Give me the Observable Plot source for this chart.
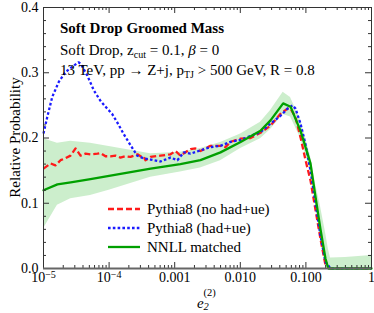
<!DOCTYPE html>
<html><head><meta charset="utf-8">
<script src="https://cdn.jsdelivr.net/npm/d3@7"></script>
<script src="https://cdn.jsdelivr.net/npm/@observablehq/plot@0.6"></script>
<style>
body{margin:0;background:#fff;}
#chart{width:374px;height:313px;}
#chart svg, #chart svg text, #chart svg tspan { font-family: "Liberation Serif", "Times New Roman", "DejaVu Serif", serif !important; }
</style></head><body><div id="chart"></div>
<script>
// ---- data ----
const redX = [1e-5,1.28e-5,1.52e-5,1.82e-5,2.16e-5,2.58e-5,3.08e-5,3.67e-5,4.37e-5,5.2e-5,6.65e-5,7.39e-5,8.81e-5,1.05e-4,1.25e-4,1.49e-4,1.78e-4,2.12e-4,2.71e-4,3.01e-4,3.34e-4,3.58e-4,4.28e-4,6.08e-4,8.63e-4,1.03e-3,1.22e-3,1.74e-3,2.07e-3,2.47e-3,3.51e-3,4.99e-3,5.94e-3,7.09e-3,1.01e-2,1.43e-2,2.03e-2,2.89e-2,4.10e-2,5.25e-2,5.83e-2,6.94e-2,8.28e-2,9.87e-2,0.1175,0.14,0.167,0.199,0.237,1];
const redY = [.153,.161,.158,.166,.169,.173,.184,.173,.176,.175,.176,.177,.172,.172,.173,.170,.172,.171,.175,.172,.172,.166,.171,.173,.175,.180,.173,.183,.184,.180,.188,.188,.186,.194,.199,.200,.208,.219,.237,.245,.245,.232,.201,.166,.135,.09,.045,.005,0,0];

const blueX = [1e-5,1.14e-5,1.36e-5,1.71e-5,2.16e-5,2.9e-5,3.42e-5,3.67e-5,4.64e-5,5.85e-5,7.39e-5,9.35e-5,1.11e-4,1.33e-4,1.67e-4,2.12e-4,2.68e-4,3.34e-4,4.28e-4,6.08e-4,8.63e-4,1.1e-3,1.38e-3,1.74e-3,2.47e-3,3.51e-3,4.99e-3,7.09e-3,1.01e-2,1.43e-2,2.03e-2,2.89e-2,4.10e-2,5.25e-2,6.25e-2,6.94e-2,8.28e-2,9.87e-2,0.1175,0.14,0.167,0.199,0.237,1];
const blueY = [.207,.232,.263,.286,.301,.311,.316,.314,.296,.273,.257,.245,.237,.224,.206,.189,.173,.169,.167,.164,.170,.166,.178,.176,.181,.186,.188,.194,.197,.203,.209,.222,.234,.245,.250,.245,.222,.190,.150,.100,.050,.010,0,0];

const nnllX  = [1e-5,1.63e-5,2.6e-5,5.2e-5,1e-4,4.3e-4,1.22e-3,2.47e-3,4.99e-3,1.01e-2,2.03e-2,2.89e-2,4.5e-2,5.83e-2,8.28e-2,0.1175,0.14,0.167,0.199,0.22,0.237,0.4,1];
const nnllY  = [.120,.129,.132,.137,.142,.153,.160,.166,.178,.194,.211,.227,.253,.248,.211,.161,.110,.060,.015,0,0,0,0];
const nnllHi = [.199,.192,.195,.192,.187,.176,.178,.184,.193,.206,.224,.242,.270,.262,.228,.172,.130,.095,.055,.030,.016,.017,.020];
const nnllLo = [.061,.097,.107,.112,.120,.140,.148,.154,.165,.184,.199,.213,.236,.232,.200,.150,.100,.045,.003,0,0,0,0];

const xTicks = [1e-5,1e-4,1e-3,1e-2,1e-1,1];
const xTickLabels = ["10^-5","10^-4","0.001","0.010","0.100","1"];
const yTicks = [0,0.1,0.2,0.3,0.4];
const yTickLabels = ["0.0","0.1","0.2","0.3","0.4"];

const seriesNames = ["Pythia8 (no had+ue)","Pythia8 (had+ue)","NNLL matched"];
const seriesColors = ["#ff1a1a","#1a1aff","#00a000"];

// ---- build tables ----
const red = redX.map((x,i)=>({x, y: redY[i]}));
const blue = blueX.map((x,i)=>({x, y: blueY[i]}));
const nnll = nnllX.map((x,i)=>({x, y: nnllY[i], lo: nnllLo[i], hi: nnllHi[i]}));

const minorX = xTicks.slice(0,-1).flatMap(d => [2,3,4,5,6,7,8,9].map(k => k*d));
const minorY = d3.range(0, 21).map(i => i*0.02).filter(v => Math.abs(v*10 - Math.round(v*10)) > 1e-6);

const W = 374, H = 313, mL = 43, mR = 3, mT = 7, mB = 45;
const pH = H - mT - mB, pW = W - mL - mR;
const serif = "Liberation Serif, Times New Roman, DejaVu Serif, serif";
const frameCol = "#333";

const chart = Plot.plot({
  width: W, height: H,
  marginLeft: mL, marginRight: mR, marginTop: mT, marginBottom: mB,
  style: {fontFamily: serif, fontSize: "14px", color: "#000", background: "#fff", overflow: "visible"},
  x: {type: "log", domain: [1e-5, 1]},
  y: {domain: [0, 0.4]},
  marks: [
    Plot.areaY(nnll, {x: "x", y1: "lo", y2: "hi", fill: "#00aa00", fillOpacity: 0.2}),
    Plot.lineY(red, {x: "x", y: "y", stroke: seriesColors[0], strokeWidth: 2.3, strokeDasharray: "6,3", strokeLinecap: "butt"}),
    Plot.lineY(blue, {x: "x", y: "y", stroke: seriesColors[1], strokeWidth: 2.3, strokeDasharray: "2.6,2.2", strokeLinecap: "butt"}),
    Plot.lineY(nnll, {x: "x", y: "y", stroke: seriesColors[2], strokeWidth: 2.3}),
    // inward ticks on all four sides
    Plot.tickX(xTicks, {insetTop: pH - 6, stroke: frameCol}),
    Plot.tickX(xTicks, {insetBottom: pH - 6, stroke: frameCol}),
    Plot.tickX(minorX, {insetTop: pH - 3, stroke: frameCol}),
    Plot.tickX(minorX, {insetBottom: pH - 3, stroke: frameCol}),
    Plot.tickY(yTicks, {insetRight: pW - 6, stroke: frameCol}),
    Plot.tickY(yTicks, {insetLeft: pW - 6, stroke: frameCol}),
    Plot.tickY(minorY, {insetRight: pW - 3, stroke: frameCol}),
    Plot.tickY(minorY, {insetLeft: pW - 3, stroke: frameCol}),
    Plot.frame({stroke: frameCol}),
    Plot.ruleY([0], {stroke: "#666", strokeWidth: 2}),
    Plot.axisX({ticks: xTicks, tickFormat: d => xTickLabels[xTicks.indexOf(d)], tickSize: 0, tickPadding: 4, label: null}),
    Plot.axisY({ticks: yTicks, tickFormat: d => yTickLabels[yTicks.indexOf(d)], tickSize: 0, tickPadding: 5, label: null})
  ]
});
document.getElementById("chart").appendChild(chart);

const svg = d3.select(chart);

// superscript exponents on the log tick labels
svg.selectAll("text").each(function() {
  const t = this.textContent;
  if (t.startsWith("10^")) {
    const el = d3.select(this);
    el.text("10");
    el.append("tspan").attr("dy", "-0.45em").attr("font-size", "0.72em").text("\u2212" + t.slice(4));
  }
});

// annotation text
const ann = svg.append("g").attr("font-size", 15).attr("fill", "#000").attr("text-anchor", "start");
ann.append("text").attr("x", 60).attr("y", 33).attr("font-weight", "bold").text("Soft Drop Groomed Mass");
const l2 = ann.append("text").attr("x", 60).attr("y", 54.5);
l2.append("tspan").text("Soft Drop, z");
l2.append("tspan").attr("dy", 3).attr("font-size", 10).text("cut");
l2.append("tspan").attr("dy", -3).text(" = 0.1, ");
l2.append("tspan").attr("font-style", "italic").text("\u03b2");
l2.append("tspan").text(" = 0");
const l3 = ann.append("text").attr("x", 60).attr("y", 75);
l3.append("tspan").text("13 TeV, pp \u2192 Z+j, p");
l3.append("tspan").attr("dy", 3).attr("font-size", 10).text("TJ");
l3.append("tspan").attr("dy", -3).text(" > 500 GeV, R = 0.8");

// legend
const leg = svg.append("g").attr("font-size", 15).attr("text-anchor", "start");
const dashes = ["6,3", "2.6,2.2", null];
seriesNames.forEach((name, i) => {
  const yy = 209 + i * 19;
  const ln = leg.append("line").attr("x1", 108).attr("x2", 140).attr("y1", yy).attr("y2", yy)
    .attr("stroke", seriesColors[i]).attr("stroke-width", 2.3);
  if (dashes[i]) ln.attr("stroke-dasharray", dashes[i]);
  leg.append("text").attr("x", 147).attr("y", yy + 5).text(name);
});

// axis titles
svg.append("text").attr("transform", `translate(20,${mT + pH/2}) rotate(-90)`)
  .attr("text-anchor", "middle").attr("font-size", 15).text("Relative Probability");
const xl = svg.append("g").attr("text-anchor", "start");
xl.append("text").attr("x", 197).attr("y", 307.5).attr("font-size", 15).attr("font-style", "italic").text("e");
xl.append("text").attr("x", 203.5).attr("y", 296).attr("font-size", 10.5).text("(2)");
xl.append("text").attr("x", 203.5).attr("y", 310).attr("font-size", 10.5).attr("font-style", "italic").text("2");
</script>
</body></html>
